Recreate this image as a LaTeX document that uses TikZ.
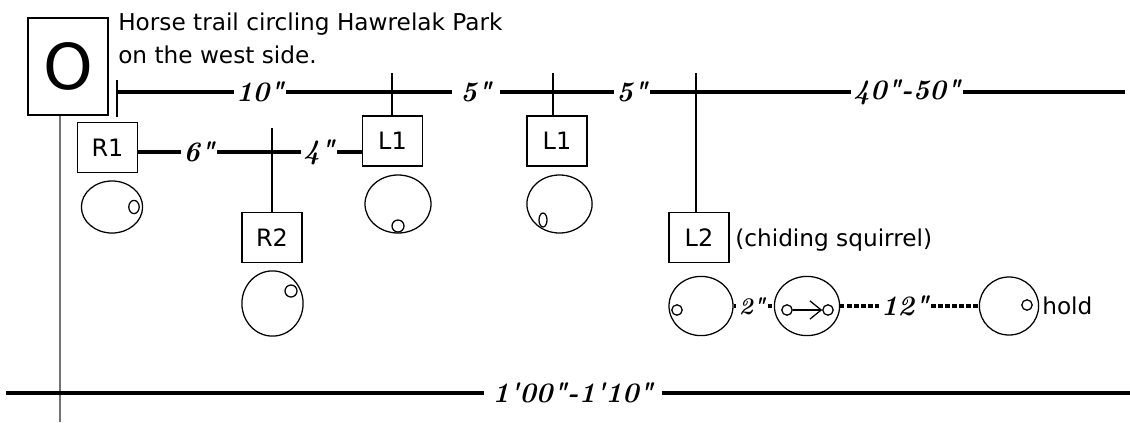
\documentclass[tikz,border=0pt]{standalone}
\usepackage{fontspec}
\newfontfamily\trailfont{DejaVu Sans}
\newfontfamily\distfont{lmroman10-bolditalic.otf}
\usetikzlibrary{arrows.meta,shapes.geometric}

\begin{document}
\begin{tikzpicture}[x=0.025cm,y=-0.025cm,
    >={Straight Barb[length=8pt,width=13pt]},
    trail/.style={line width=2.8pt},
    thinline/.style={line width=0.9pt},
    marker/.style={draw,line width=1.3pt,minimum width=1.5cm,
        minimum height=1.25cm,inner sep=0pt,
        font=\trailfont\fontsize{17}{17}\selectfont},
    dist/.style={inner sep=1.5pt,
        font=\distfont\fontsize{20}{20}\selectfont},
    hole/.style={draw,ellipse,line width=0.9pt,inner sep=0pt},
    pip/.style={draw,ellipse,line width=0.9pt,inner sep=0pt,
        minimum width=0.26cm,minimum height=0.26cm},
    note/.style={inner sep=0pt,align=left,
        font=\trailfont\fontsize{16.5}{23}\selectfont}]
    \useasboundingbox (0,0) rectangle (1130,422);

    % Start marker and title.
    \node[marker,minimum width=2cm,minimum height=2.425cm,
        font=\trailfont\fontsize{45}{45}\selectfont] (start) at (68,66.5) {O};
    \node[note,anchor=north west] (title) at (118,13)
        {Horse trail circling Hawrelak Park\\on the west side.};
    \coordinate (foot) at (60,422);
    \draw[line width=1.2pt,black!55] (start.south -| foot) -- (foot);

    % Main trail along the top.
    \coordinate (ticktop) at (117,80);
    \coordinate (tickbottom) at (117,117);
    \draw[thinline] (ticktop) -- (tickbottom);
    \coordinate (trailstart) at (117,92);
    \coordinate (trailend) at (1125,92);
    \node[dist] (d10) at (260,92) {10"};
    \node[dist,inner xsep=6pt] (d5a) at (476,92) {5"};
    \node[dist] (d5b) at (632,92) {5"};
    \node[dist] (d40) at (907,92) {40"-50"};
    \draw[trail] (trailstart) -- (d10) -- (d5a) -- (d5b) -- (d40)
        -- (trailend);

    % Boxes hanging from the trail.
    \node[marker] (l1a) at (392.5,141) {L1};
    \node[marker] (l1b) at (557,141) {L1};
    \node[marker] (l2) at (699,237.5) {L2};
    \coordinate (l1atop) at (392,73);
    \coordinate (l1btop) at (553,73);
    \coordinate (l2top) at (696,73);
    \draw[thinline] (l1atop) -- (l1atop |- l1a.north);
    \draw[thinline] (l1btop) -- (l1btop |- l1b.north);
    \draw[thinline] (l2top) -- (l2top |- l2.north);

    % Branch to R1 and R2.
    \node[marker] (r1) at (107.5,147.5) {R1};
    \node[dist] (d6) at (199,152) {6"};
    \node[dist] (d4) at (319,152) {4"};
    \draw[trail] (r1.east |- d6) -- (d6) -- (d4) -- (l1a.west |- d6);
    \node[marker] (r2) at (272,237.5) {R2};
    \coordinate (r2top) at (272,128);
    \draw[thinline] (r2top) -- (r2);

    % Holes under each box.
    \node[hole,minimum width=1.53cm,minimum height=1.3cm] (r1h) at (112,207) {};
    \node[pip,minimum height=0.33cm] (r1p) at (134,207) {};
    \node[hole,minimum width=1.53cm,minimum height=1.63cm] (r2h) at (272.5,303.5) {};
    \node[pip,minimum width=0.3cm,minimum height=0.3cm] (r2p) at (291,291) {};
    \node[hole,minimum width=1.65cm,minimum height=1.45cm] (l1ah) at (398,204) {};
    \node[pip,minimum width=0.3cm,minimum height=0.3cm] (l1ap) at (398,226) {};
    \node[hole,minimum width=1.63cm,minimum height=1.45cm] (l1bh) at (559.5,204) {};
    \node[pip,minimum width=0.2cm,minimum height=0.35cm] (l1bp) at (543,220) {};

    % Sequence after L2.
    \node[note,anchor=west] (squirrel) at (735,240) {(chiding squirrel)};
    \node[hole,minimum width=1.6cm,minimum height=1.48cm] (e1) at (701,306) {};
    \node[hole,minimum width=1.63cm,minimum height=1.48cm] (e2) at (807,306) {};
    \node[hole,minimum width=1.48cm,minimum height=1.45cm] (e3) at (1009,306) {};
    \node[pip] (e1p) at (677,310) {};
    \node[pip] (e2a) at (787,310) {};
    \node[pip] (e2b) at (828,310) {};
    \node[pip] (e3p) at (1027,305) {};
    \draw[thinline,->] (e2a) -- (e2b);
    \node[dist,font=\distfont\fontsize{17}{17}\selectfont] (d2)
        at (752,306) {2"};
    \node[dist] (d12) at (905,306) {12"};
    \draw[trail,dash pattern=on 3pt off 2pt] (e1) -- (d2) -- (e2) -- (d12)
        -- (e3);
    \node[note,anchor=west] (hold) at (1042,306) {hold};

    % Return trail along the bottom.
    \coordinate (returnstart) at (6,393);
    \coordinate (returnend) at (1130,393);
    \node[dist,inner xsep=6pt] (d100) at (573,393) {1'00"-1'10"};
    \draw[line width=3.5pt] (returnstart) -- (d100) -- (returnend);
\end{tikzpicture}
\end{document}
